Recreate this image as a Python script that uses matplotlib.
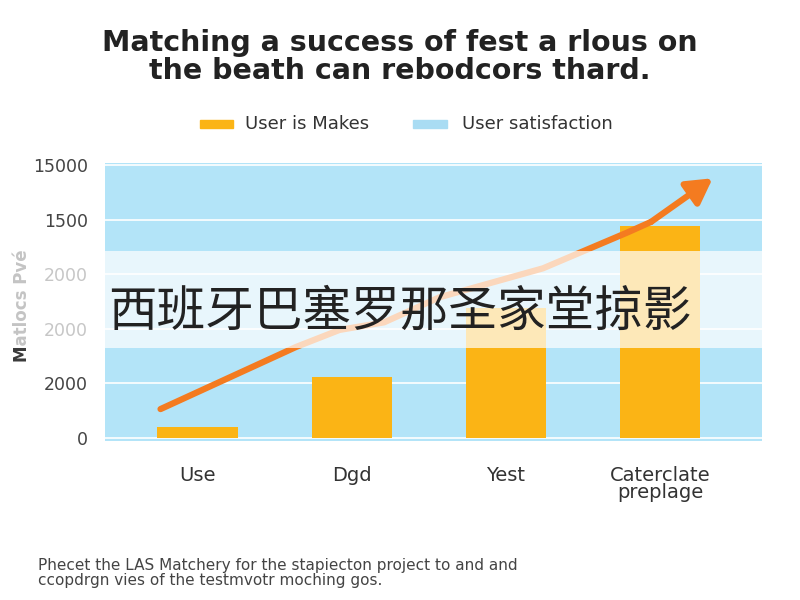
import matplotlib
matplotlib.use("Agg")
import matplotlib.pyplot as plt
from matplotlib.patches import Rectangle

plt.rcParams['font.family'] = ['DejaVu Sans']

categories = ["Use", "Dgd", "Yest", "Caterclate\npreplage"]
bar_values = [0.2, 1.12, 2.38, 3.88]
ytick_labels = ["0", "2000", "2000", "2000", "1500", "15000"]
trend_x = [-0.24, 0.64, 0.92, 1.21, 1.57, 2.24, 2.79, 2.94]
trend_y = [0.53, 1.67, 1.98, 2.12, 2.58, 3.11, 3.77, 3.96]
arrow_tip = (3.34, 4.76)

title = "Matching a success of fest a rlous on\nthe beath can rebodcors thard."
legend_labels = ["User is Makes", "User satisfaction"]
ylabel = "Matlocs Pvé"
overlay_text = "西班牙巴塞罗那圣家堂掠影"
footnote = ("Phecet the LAS Matchery for the stapiecton project to and and\n"
            "ccopdrgn vies of the testmvotr moching gos.")

BAR = "#fbb415"
BLUE = "#b3e4f8"
ORANGE = "#f47b20"

fig = plt.figure(figsize=(8, 6), dpi=100)
ax = fig.add_axes([105/800, 1-441/600, (762-105)/800, (441-163)/600])
ax.set_facecolor(BLUE)
for s in ax.spines.values():
    s.set_visible(False)

x = list(range(len(categories)))
ax.bar(x, bar_values, width=0.52, color=BAR, zorder=3)
ax.plot(trend_x, trend_y, color=ORANGE, lw=4.5, solid_capstyle='round',
        solid_joinstyle='round', zorder=4)
ax.annotate("", xy=arrow_tip, xytext=(trend_x[-1], trend_y[-1]),
            arrowprops=dict(arrowstyle="-|>,head_length=1.5,head_width=0.85",
                            color=ORANGE, lw=4.5, shrinkA=0, shrinkB=0),
            zorder=4)

ax.set_xlim(-0.6, 3.66)
ax.set_ylim(-0.055, 5.04)
ax.set_yticks(range(6))
ax.set_yticklabels(ytick_labels, fontsize=12.5, color="#444444")
ax.set_xticks(x)
ax.set_xticklabels(categories, fontsize=14, color="#333333", linespacing=0.9)
ax.tick_params(axis='both', length=0)
ax.tick_params(axis='y', pad=12.5)
ax.tick_params(axis='x', pad=18)
ax.grid(axis='y', color='white', lw=1.2, zorder=1)
ax.set_axisbelow(True)

fig.text(22/800, 1-306/600, ylabel, rotation=90, ha='center', va='center',
         fontsize=12, color="#3a3a3a", fontweight='bold')

fig.text(0.5, 1-57/600, title, ha='center', va='center', fontsize=20.5,
         fontweight='bold', color="#222222", linespacing=0.97)

# legend
fig.patches.append(Rectangle((200/800, 1-128/600), 33/800, 8/600,
                             transform=fig.transFigure, color=BAR))
fig.text(245/800, 1-124/600, legend_labels[0], va='center', fontsize=13,
         color="#333333")
fig.patches.append(Rectangle((413/800, 1-128/600), 34/800, 8/600,
                             transform=fig.transFigure, color="#a9dcf3"))
fig.text(462/800, 1-124/600, legend_labels[1], va='center', fontsize=13,
         color="#333333")

# white translucent band with overlay text
band = Rectangle((0, 1-348/600), 1, 97/600, transform=fig.transFigure,
                 facecolor='white', alpha=0.7, edgecolor='none', zorder=10)
fig.add_artist(band)
fig.text(400/800, 1-312/600, overlay_text, ha='center', va='center',
         fontsize=35, color="#222222", zorder=11,
         family=['Noto Sans CJK SC', 'DejaVu Sans'])

fig.text(38/800, 1-573/600, footnote, ha='left', va='center', fontsize=11,
         color="#444444", linespacing=0.92)

fig.savefig("out.png", dpi=100, facecolor='white')
